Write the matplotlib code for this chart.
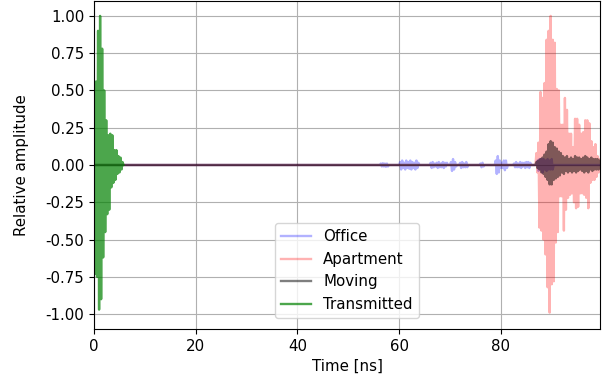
import numpy as np
import matplotlib
matplotlib.use("Agg")
import matplotlib.pyplot as plt

plt.rcParams["font.size"] = 10.8

# Peak amplitudes are listed as alternating extrema, one every STEP ns.
STEP = 0.2          # ns between successive extrema
T_END = 99.4        # last sample time [ns]

# Transmitted pulse (starts at 0 ns)
transmitted_start = 0.0
transmitted_peaks = [
    0.55, -0.73, 0.56, -0.75, 0.90, -0.97, 1.00, -0.90, 0.78, -0.62,
    0.50, -0.45, 0.30, -0.33, 0.20, -0.30, 0.21, -0.15, 0.20, -0.12,
    0.10, -0.10, 0.10, -0.06, 0.06, -0.05, 0.05, -0.03, 0.02,
]

# Apartment response
apartment_start = 87.0
apartment_peaks = [
    0.08, -0.05, 0.15, -0.42, 0.49, -0.44, 0.45, -0.50, 0.55, -0.60,
    0.84, -0.82, 0.90, -0.99, 1.00, -0.80, 0.84, -0.78, 0.82, -0.52,
    0.51, -0.45, 0.50, -0.21, 0.27, -0.21, 0.27, -0.44, 0.45, -0.30,
    0.37, -0.22, 0.21, -0.20, 0.21, -0.19, 0.12, -0.25, 0.31, -0.29,
    0.31, -0.28, 0.27, -0.19, 0.21, -0.19, 0.22, -0.20, 0.30, -0.22,
    0.30, -0.29, 0.28, -0.12, 0.16, -0.10, 0.12, -0.10, 0.14, -0.08,
    0.06, -0.05, 0.04,
]

# Moving-scene response
moving_start = 87.0
moving_peaks = [
    0.02, -0.02, 0.03, -0.03, 0.04, -0.05, 0.05, -0.06, 0.07, -0.08,
    0.09, -0.10, 0.14, -0.13, 0.16, -0.13, 0.15, -0.10, 0.12, -0.09,
    0.11, -0.08, 0.09, -0.07, 0.08, -0.05, 0.06, -0.06, 0.05, -0.04,
    0.06, -0.05, 0.04, -0.04, 0.05, -0.05, 0.04, -0.04, 0.06, -0.05,
    0.05, -0.04, 0.05, -0.03, 0.04, -0.04, 0.05, -0.05, 0.06, -0.04,
    0.05, -0.05, 0.04, -0.03, 0.05, -0.04, 0.04, -0.03, 0.04, -0.03,
    0.04, -0.03, 0.03,
]

# Office response: a few weak echo clusters (start time, extrema)
office_bursts = [
    (56.4, [0.01, -0.01, 0.012, -0.01, 0.01, -0.012, 0.01, -0.01]),
    (60.2, [0.02, -0.03, 0.03, -0.02, 0.015, -0.03, 0.03, -0.02, 0.02,
            -0.025, 0.03, -0.03, 0.02, -0.02, 0.015, -0.03, 0.03, -0.02, 0.015]),
    (66.2, [0.015, -0.02, 0.02, -0.015, 0.01, -0.01, 0.015, -0.02, 0.02,
            -0.015, 0.01, -0.015, 0.02, -0.02, 0.015, -0.01, 0.015]),
    (70.2, [0.02, -0.04, 0.04, -0.03, 0.02, -0.01]),
    (72.0, [0.015, -0.02, 0.02, -0.015, 0.01, -0.015, 0.02, -0.015]),
    (76.0, [0.01, -0.015, 0.015, -0.01]),
    (79.0, [0.03, -0.06, 0.06, -0.05, 0.03, -0.02, 0.015, -0.02, 0.03,
            -0.035, 0.03, -0.02]),
    (82.6, [0.01, -0.015, 0.02, -0.015, 0.01, -0.015, 0.02, -0.02, 0.015,
            -0.01, 0.015, -0.02, 0.02, -0.015, 0.02, -0.02, 0.015]),
    (87.2, [0.03, -0.04, 0.04, -0.03, 0.04, -0.05, 0.04, -0.03, 0.03,
            -0.04, 0.04, -0.03, 0.03, -0.03, 0.04, -0.03]),
]


def build_trace(bursts, t_end=T_END, pad_zero=True):
    """Assemble a trace from bursts of extrema, flat zero in between."""
    t, v = [], []
    if pad_zero:
        t.append(0.0)
        v.append(0.0)
    for start, peaks in bursts:
        if start > 0:
            t.append(start - STEP)
            v.append(0.0)
        times = start + STEP * np.arange(len(peaks))
        t.extend(times.tolist())
        v.extend(peaks)
        t.append(times[-1] + STEP)
        v.append(0.0)
    if pad_zero and t[-1] < t_end:
        t.append(t_end)
        v.append(0.0)
    return np.array(t), np.array(v)


office_t, office_v = build_trace(office_bursts)
apartment_t, apartment_v = build_trace([(apartment_start, apartment_peaks)])
moving_t, moving_v = build_trace([(moving_start, moving_peaks)])
transmitted_t, transmitted_v = build_trace(
    [(transmitted_start, transmitted_peaks)], pad_zero=False)

fig = plt.figure(figsize=(6.16, 3.85), dpi=100)
ax = fig.add_axes([94 / 616, 1 - 329 / 385, (600 - 94) / 616, 328 / 385])

ax.plot(office_t, office_v, color="b", alpha=0.3, lw=1.7, label="Office")
ax.plot(apartment_t, apartment_v, color="r", alpha=0.3, lw=1.7, label="Apartment")
ax.plot(moving_t, moving_v, color="k", alpha=0.5, lw=1.7, label="Moving")
ax.plot(transmitted_t, transmitted_v, color="g", alpha=0.7, lw=1.7,
        label="Transmitted")

ax.set_xlim(0, 99.5)
ax.set_ylim(-1.1, 1.1)
ax.set_yticks(np.arange(-1.0, 1.01, 0.25))
ax.set_xticks([0, 20, 40, 60, 80])
ax.yaxis.set_major_formatter(matplotlib.ticker.FormatStrFormatter("%.2f"))
ax.grid(True)
ax.set_xlabel("Time [ns]")
ax.set_ylabel("Relative amplitude", labelpad=12)
ax.legend(loc="lower center", bbox_to_anchor=(0.5, 0.034), borderaxespad=0)

fig.savefig("out.png", dpi=100)
